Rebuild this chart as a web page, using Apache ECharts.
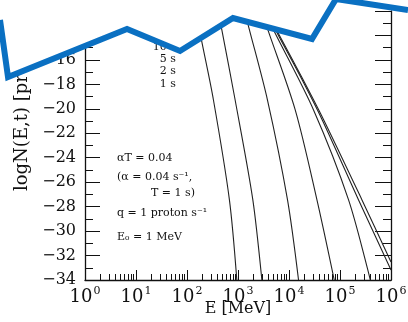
<!DOCTYPE html>
<html><head><meta charset="utf-8">
<script src="https://cdn.jsdelivr.net/npm/echarts@6/dist/echarts.min.js"></script>
<style>html,body{margin:0;padding:0;background:#fff}#c{width:408px;height:322px}</style>
</head><body><div id="c"></div>
<script>
// Energy (MeV) and logN values, one pair of arrays per curve
const curveA_E = [148, 195, 330, 679, 948];
const curveA_N = [-12, -14.51, -19.28, -27.45, -34.0];
const curveB_E = [409, 482, 879, 1954, 2938];
const curveB_N = [-12, -13.55, -19.28, -27.45, -34.0];
const curveC_E = [1346, 1603, 3784, 9354, 15382];
const curveC_N = [-12, -13.23, -19.28, -27.45, -34.0];
const curveD_E = [2884, 3963, 13243, 35318, 77090];
const curveD_N = [-12, -13.69, -20.09, -27.45, -34.0];
const curveE_E = [3228, 5358, 30269, 147231, 392645];
const curveE_N = [-12, -13.82, -20.09, -27.45, -34.0];
const curveF_E = [3443, 6138, 17338, 44875, 231206, 1000000];
const curveF_N = [-12, -13.96, -17.48, -20.91, -27.45, -33.18];
const curveG_E = [3597, 6427, 18155, 47973, 269774, 1000000];
const curveG_N = [-12, -13.96, -17.48, -20.91, -27.45, -32.52];

const timeLabels = ['10 s', '5 s', '2 s', '1 s'];
const xTickExponents = [0, 1, 2, 3, 4, 5, 6];
const yTicks = [-34, -32, -30, -28, -26, -24, -22, -20, -18, -16, -14, -12];
const xMinorTicks = [];
[1, 10, 100, 1000, 10000, 100000].forEach(d => { for (let k = 2; k <= 9; k++) xMinorTicks.push(d * k); });

const curves = [
  [curveA_E, curveA_N], [curveB_E, curveB_N], [curveC_E, curveC_N], [curveD_E, curveD_N],
  [curveE_E, curveE_N], [curveF_E, curveF_N], [curveG_E, curveG_N]
];

const serif = 'DejaVu Serif';
const chart = echarts.init(document.getElementById('c'), null, {renderer: 'canvas'});

const blue = [[0,20],[8,77],[127,29],[180,51],[233,18],[312,39],[336,-1],[408,10]];
const mask = [[0,-6]].concat(blue).concat([[408,-6]]);

const annot = [
  {t: 'αT = 0.04', x: 117, y: 158},
  {t: '(α = 0.04 s⁻¹,', x: 117, y: 177},
  {t: 'T = 1 s)', x: 151, y: 193},
  {t: 'q = 1 proton s⁻¹', x: 117, y: 213},
  {t: 'E₀ = 1 MeV', x: 117, y: 237}
];

const graphics = [];
annot.forEach(a => graphics.push({type: 'text', x: a.x, y: a.y, z: 50,
  style: {text: a.t, font: '11px "' + serif + '"', fill: '#111', textVerticalAlign: 'middle'}}));
timeLabels.forEach((t, i) => graphics.push({type: 'text', x: 176, y: 47 + i * 12.3, z: 50,
  style: {text: t, font: '11px "' + serif + '"', fill: '#111', textAlign: 'right', textVerticalAlign: 'middle'}}));
graphics.push({type: 'text', x: 22, y: 191, rotation: Math.PI / 2, z: 50,
  style: {text: 'logN(E,t) [protons MeV⁻¹]', font: '18px "' + serif + '"', fill: '#111', textAlign: 'left', textVerticalAlign: 'middle'}});
graphics.push({type: 'polygon', z: 100, shape: {points: mask}, style: {fill: '#fff'}});
graphics.push({type: 'polyline', z: 101, shape: {points: blue},
  style: {stroke: '#0a70c2', lineWidth: 6, fill: null, lineJoin: 'miter'}});

chart.setOption({
  animation: false,
  backgroundColor: '#fff',
  grid: {left: 85, right: 17, top: 11, bottom: 42, outerBoundsMode: 'none', containLabel: false},
  xAxis: [{
    type: 'log', logBase: 10, min: 1, max: 1e6, position: 'bottom',
    name: 'E [MeV]', nameLocation: 'middle', nameGap: 21, nameMoveOverlap: false,
    nameTextStyle: {fontFamily: serif, fontSize: 16, color: '#111', verticalAlign: 'top'},
    axisLine: {show: true, lineStyle: {color: '#111', width: 1.3}},
    axisTick: {show: true, inside: true, length: 10, lineStyle: {color: '#111', width: 1}},
    splitLine: {show: false}, minorTick: {show: false},
    axisLabel: {
      margin: 6,
      formatter: v => '{b|10}{s|' + xTickExponents[Math.round(Math.log10(v))] + '}',
      rich: {b: {fontFamily: serif, fontSize: 18, color: '#111', verticalAlign: 'bottom'},
             s: {fontFamily: serif, fontSize: 11, color: '#111', verticalAlign: 'top', padding: [0,0,9,1]}}
    }
  }, {
    type: 'log', logBase: 10, min: 1, max: 1e6, position: 'bottom',
    axisLine: {show: false}, axisLabel: {show: false}, splitLine: {show: false},
    axisTick: {show: true, inside: true, length: 6, customValues: xMinorTicks, lineStyle: {color: '#111', width: 1}}
  }],
  yAxis: [{
    type: 'value', min: yTicks[0], max: yTicks[yTicks.length - 1], interval: 2, position: 'left',
    axisLine: {show: true, lineStyle: {color: '#111', width: 1.3}},
    axisTick: {show: true, inside: true, length: 15, lineStyle: {color: '#111', width: 1}},
    minorTick: {show: true, splitNumber: 2, length: 8, lineStyle: {color: '#111', width: 1}},
    splitLine: {show: false},
    axisLabel: {margin: 9, fontFamily: serif, fontSize: 16, color: '#111',
      formatter: v => String(v).replace('-', '−')}
  }, {
    type: 'value', min: yTicks[0], max: yTicks[yTicks.length - 1], interval: 2, position: 'right',
    axisLine: {show: true, lineStyle: {color: '#111', width: 1.3}},
    axisTick: {show: true, inside: true, length: 16, lineStyle: {color: '#111', width: 1}},
    minorTick: {show: true, splitNumber: 2, length: 8, lineStyle: {color: '#111', width: 1}},
    splitLine: {show: false}, axisLabel: {show: false}
  }],
  series: curves.map(c => ({
    type: 'line', xAxisIndex: 0, yAxisIndex: 0, showSymbol: false, symbol: 'none', smooth: 0.3,
    lineStyle: {color: '#222', width: 1.1}, clip: true,
    data: c[0].map((e, i) => [e, c[1][i]])
  })),
  graphic: graphics
});
</script></body></html>
